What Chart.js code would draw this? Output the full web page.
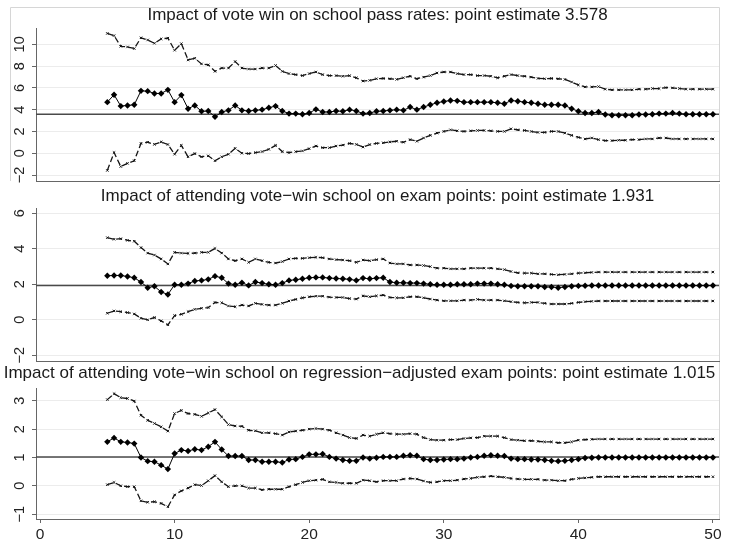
<!DOCTYPE html>
<html>
<head>
<meta charset="utf-8">
<script src="https://cdn.jsdelivr.net/npm/chart.js@4.4.1/dist/chart.umd.min.js"></script>
<style>
  html, body { margin: 0; padding: 0; background: #fff; }
  #wrap { position: relative; width: 731px; height: 545px; overflow: hidden; }
  .panel { position: absolute; left: 0; }
</style>
</head>
<body>
<div id="wrap">
  <canvas id="p1" class="panel" style="top:0px" width="731" height="186"></canvas>
  <canvas id="p2" class="panel" style="top:184px" width="731" height="182"></canvas>
  <canvas id="p3" class="panel" style="top:362px" width="731" height="183"></canvas>
</div>
<script>
// bandwidths (x axis)
const bandwidths = [
  5, 5.5, 6, 6.5, 7, 7.5, 8, 8.5, 9, 9.5,
  10, 10.5, 11, 11.5, 12, 12.5, 13, 13.5, 14, 14.5,
  15, 15.5, 16, 16.5, 17, 17.5, 18, 18.5, 19, 19.5,
  20, 20.5, 21, 21.5, 22, 22.5, 23, 23.5, 24, 24.5,
  25, 25.5, 26, 26.5, 27, 27.5, 28, 28.5, 29, 29.5,
  30, 30.5, 31, 31.5, 32, 32.5, 33, 33.5, 34, 34.5,
  35, 35.5, 36, 36.5, 37, 37.5, 38, 38.5, 39, 39.5,
  40, 40.5, 41, 41.5, 42, 42.5, 43, 43.5, 44, 44.5,
  45, 45.5, 46, 46.5, 47, 47.5, 48, 48.5, 49, 49.5, 50
];
const xTicks = [0, 10, 20, 30, 40, 50];

// Panel 1: school pass rates
const passTitle = 'Impact of vote win on school pass rates: point estimate 3.578';
const passPoint = 3.578;
const passTicks = [-2, 0, 2, 4, 6, 8, 10];
const passEst = [
  4.69, 5.37, 4.33, 4.39, 4.45, 5.73, 5.70, 5.49, 5.49, 5.82,
  4.69, 5.34, 4.09, 4.39, 3.85, 3.88, 3.34, 3.79, 3.94, 4.39,
  3.94, 3.88, 3.94, 4.00, 4.18, 4.33, 3.88, 3.64, 3.64, 3.58,
  3.70, 4.03, 3.79, 3.79, 3.88, 3.85, 4.00, 3.88, 3.64, 3.70,
  3.85, 3.88, 3.94, 4.00, 3.94, 4.24, 4.00, 4.24, 4.45, 4.63,
  4.75, 4.84, 4.81, 4.69, 4.69, 4.69, 4.69, 4.69, 4.63, 4.54,
  4.84, 4.78, 4.69, 4.63, 4.54, 4.45, 4.45, 4.45, 4.39, 4.09,
  3.85, 3.70, 3.70, 3.79, 3.55, 3.49, 3.49, 3.49, 3.49, 3.55,
  3.55, 3.58, 3.64, 3.64, 3.70, 3.64, 3.58, 3.58, 3.58, 3.58, 3.58
];
const passUpper = [
  11.0, 10.8, 9.82, 9.76, 9.61, 10.6, 10.4, 10.1, 10.5, 10.57,
  9.46, 10.06, 8.57, 8.72, 8.20, 8.12, 7.52, 7.82, 7.82, 8.42,
  7.82, 7.73, 7.73, 7.82, 7.82, 8.06, 7.52, 7.31, 7.22, 7.13,
  7.31, 7.46, 7.22, 7.13, 7.13, 7.07, 7.13, 6.93, 6.63, 6.69,
  6.84, 6.87, 6.84, 6.78, 6.93, 7.07, 6.84, 6.99, 7.13, 7.37,
  7.46, 7.46, 7.31, 7.22, 7.22, 7.13, 7.13, 7.07, 6.93, 7.07,
  7.22, 7.13, 7.07, 6.99, 6.87, 6.84, 6.87, 6.84, 6.78, 6.54,
  6.27, 6.09, 6.09, 6.12, 5.88, 5.82, 5.82, 5.82, 5.82, 5.88,
  5.88, 5.94, 5.94, 6.03, 6.00, 5.94, 5.88, 5.88, 5.88, 5.88, 5.88
];
const passLower = [
  -1.58, 0.06, -1.22, -0.93, -0.69, 0.90, 1.01, 0.81, 1.04, 0.80,
  -0.09, 0.72, -0.33, -0.03, -0.33, -0.24, -0.69, -0.33, -0.09, 0.45,
  0.00, -0.03, 0.06, 0.15, 0.36, 0.72, 0.15, 0.06, 0.15, 0.21,
  0.42, 0.66, 0.51, 0.51, 0.66, 0.75, 0.90, 0.81, 0.57, 0.80,
  0.90, 0.96, 1.04, 1.10, 1.01, 1.25, 1.10, 1.40, 1.64, 1.85,
  2.00, 2.15, 2.06, 2.00, 2.06, 2.09, 2.09, 2.06, 2.00, 2.00,
  2.24, 2.15, 2.09, 2.00, 1.91, 1.91, 2.00, 2.00, 1.85, 1.64,
  1.46, 1.31, 1.40, 1.25, 1.16, 1.16, 1.19, 1.19, 1.25, 1.25,
  1.31, 1.31, 1.40, 1.40, 1.31, 1.31, 1.31, 1.31, 1.31, 1.31, 1.31
];

// Panel 2: exam points
const examTitle = 'Impact of attending vote\u2212win school on exam points: point estimate 1.931';
const examPoint = 1.931;
const examTicks = [-2, 0, 2, 4, 6];
const examEst = [
  2.48, 2.50, 2.50, 2.44, 2.37, 2.13, 1.81, 1.89, 1.57, 1.43,
  1.98, 1.98, 2.04, 2.19, 2.22, 2.28, 2.46, 2.37, 2.04, 1.98,
  2.09, 1.94, 2.13, 2.07, 2.00, 1.98, 2.07, 2.22, 2.26, 2.31,
  2.37, 2.39, 2.39, 2.35, 2.33, 2.31, 2.28, 2.22, 2.35, 2.31,
  2.35, 2.37, 2.13, 2.09, 2.09, 2.07, 2.07, 2.04, 2.00, 1.98,
  1.98, 1.98, 2.00, 2.00, 2.00, 2.04, 2.04, 2.04, 2.00, 1.98,
  1.91, 1.89, 1.89, 1.89, 1.89, 1.85, 1.85, 1.81, 1.85, 1.89,
  1.91, 1.92, 1.93, 1.93, 1.93, 1.93, 1.93, 1.93, 1.93, 1.93,
  1.93, 1.93, 1.93, 1.93, 1.93, 1.93, 1.93, 1.93, 1.93, 1.93, 1.93
];
const examUpper = [
  4.63, 4.54, 4.57, 4.48, 4.43, 4.07, 3.76, 3.65, 3.43, 3.15,
  3.80, 3.76, 3.74, 3.76, 3.80, 3.80, 4.02, 3.76, 3.43, 3.33,
  3.43, 3.24, 3.43, 3.33, 3.24, 3.20, 3.28, 3.43, 3.46, 3.46,
  3.50, 3.52, 3.50, 3.43, 3.39, 3.37, 3.33, 3.24, 3.37, 3.33,
  3.39, 3.43, 3.20, 3.15, 3.15, 3.09, 3.09, 3.06, 3.00, 2.91,
  2.91, 2.87, 2.87, 2.87, 2.91, 2.91, 2.91, 2.91, 2.87, 2.83,
  2.72, 2.65, 2.63, 2.63, 2.59, 2.59, 2.56, 2.54, 2.56, 2.59,
  2.63, 2.65, 2.67, 2.69, 2.69, 2.69, 2.69, 2.69, 2.69, 2.69,
  2.69, 2.69, 2.69, 2.69, 2.69, 2.69, 2.69, 2.69, 2.69, 2.69, 2.69
];
const examLower = [
  0.37, 0.50, 0.46, 0.41, 0.33, 0.09, 0.00, 0.13, -0.06, -0.28,
  0.24, 0.31, 0.46, 0.59, 0.65, 0.69, 0.98, 0.96, 0.78, 0.74,
  0.83, 0.78, 0.93, 0.87, 0.83, 0.83, 0.93, 1.06, 1.15, 1.24,
  1.30, 1.33, 1.33, 1.28, 1.26, 1.26, 1.20, 1.17, 1.35, 1.30,
  1.35, 1.39, 1.26, 1.24, 1.24, 1.30, 1.30, 1.24, 1.17, 1.11,
  1.07, 1.07, 1.07, 1.11, 1.11, 1.15, 1.11, 1.11, 1.11, 1.07,
  1.02, 0.98, 0.96, 0.98, 0.98, 0.93, 0.89, 0.89, 0.89, 0.93,
  0.98, 1.02, 1.04, 1.06, 1.06, 1.06, 1.06, 1.06, 1.06, 1.06,
  1.06, 1.06, 1.06, 1.06, 1.06, 1.06, 1.06, 1.06, 1.06, 1.06, 1.06
];

// Panel 3: regression-adjusted exam points
const adjTitle = 'Impact of attending vote\u2212win school on regression\u2212adjusted exam points: point estimate 1.015';
const adjPoint = 1.015;
const adjTicks = [-1, 0, 1, 2, 3];
const adjEst = [
  1.55, 1.69, 1.55, 1.53, 1.49, 1.00, 0.87, 0.85, 0.73, 0.59,
  1.14, 1.26, 1.23, 1.29, 1.26, 1.38, 1.55, 1.28, 1.05, 1.05,
  1.05, 0.91, 0.91, 0.85, 0.85, 0.85, 0.82, 0.93, 0.94, 1.02,
  1.11, 1.11, 1.12, 1.02, 0.96, 0.91, 0.88, 0.88, 1.00, 0.96,
  0.99, 1.02, 1.02, 1.02, 1.06, 1.08, 1.06, 0.94, 0.91, 0.91,
  0.93, 0.94, 0.94, 0.96, 1.00, 1.02, 1.06, 1.08, 1.06, 1.05,
  0.96, 0.94, 0.94, 0.93, 0.93, 0.91, 0.88, 0.87, 0.88, 0.91,
  0.94, 0.98, 0.99, 1.00, 1.00, 1.00, 1.00, 1.00, 1.00, 1.00,
  1.00, 1.00, 1.00, 1.00, 1.00, 1.00, 1.00, 1.00, 1.00, 1.00, 1.00
];
const adjUpper = [
  3.04, 3.25, 3.11, 3.08, 2.99, 2.49, 2.31, 2.20, 2.08, 1.93,
  2.55, 2.66, 2.55, 2.52, 2.45, 2.57, 2.69, 2.43, 2.16, 2.11,
  2.10, 1.96, 1.94, 1.87, 1.87, 1.84, 1.79, 1.90, 1.93, 1.96,
  2.00, 2.02, 2.00, 1.96, 1.87, 1.79, 1.70, 1.67, 1.79, 1.75,
  1.82, 1.87, 1.84, 1.82, 1.82, 1.84, 1.82, 1.70, 1.63, 1.61,
  1.61, 1.63, 1.63, 1.67, 1.69, 1.70, 1.75, 1.75, 1.75, 1.70,
  1.63, 1.61, 1.59, 1.59, 1.57, 1.55, 1.55, 1.52, 1.52, 1.55,
  1.61, 1.63, 1.64, 1.65, 1.65, 1.65, 1.65, 1.65, 1.65, 1.65,
  1.65, 1.65, 1.65, 1.65, 1.65, 1.65, 1.65, 1.65, 1.65, 1.65, 1.65
];
const adjLower = [
  0.04, 0.12, 0.00, -0.03, -0.03, -0.53, -0.58, -0.56, -0.62, -0.74,
  -0.32, -0.18, -0.08, 0.04, 0.01, 0.18, 0.36, 0.14, -0.03, 0.00,
  0.00, -0.08, -0.08, -0.14, -0.12, -0.12, -0.12, -0.03, 0.04, 0.12,
  0.18, 0.20, 0.23, 0.14, 0.12, 0.09, 0.09, 0.09, 0.20, 0.18,
  0.14, 0.18, 0.18, 0.18, 0.24, 0.26, 0.24, 0.17, 0.12, 0.14,
  0.18, 0.18, 0.20, 0.24, 0.26, 0.30, 0.32, 0.34, 0.32, 0.30,
  0.26, 0.24, 0.23, 0.23, 0.23, 0.20, 0.20, 0.18, 0.18, 0.23,
  0.26, 0.28, 0.30, 0.32, 0.32, 0.32, 0.32, 0.32, 0.32, 0.32,
  0.32, 0.32, 0.32, 0.32, 0.32, 0.32, 0.32, 0.32, 0.32, 0.32, 0.32
];

const FONT = "'Liberation Sans', Arial, sans-serif";
const X_MIN = -0.3, X_MAX = 50.45;

// light outline around the graph region
const framePlugin = {
    id: 'frame',
    beforeDraw: function(chart, args, opts) {
        const ctx = chart.ctx;
        const area = chart.chartArea;
        const r = Math.round(area.right) + 0.5;
        ctx.save();
        ctx.strokeStyle = '#d6d6d6';
        ctx.lineWidth = 1;
        ctx.beginPath();
        ctx.moveTo(r, opts.top);
        ctx.lineTo(r, area.bottom);
        if (opts.box) {
            ctx.moveTo(10.5, opts.top);
            ctx.lineTo(r, opts.top);
            ctx.moveTo(10.5, opts.top);
            ctx.lineTo(10.5, area.bottom);
        }
        ctx.stroke();
        ctx.restore();
    }
};

function toPoints(values) {
    return bandwidths.map(function(x, i) { return { x: x, y: values[i] }; });
}

function makePanel(id, cfg) {
    new Chart(document.getElementById(id), {
        type: 'line',
        data: {
            datasets: [
                {
                    data: toPoints(cfg.est),
                    borderColor: '#000',
                    backgroundColor: '#000',
                    borderWidth: 1,
                    pointStyle: 'rectRot',
                    pointRadius: 3.2,
                    pointBorderWidth: 0,
                    order: 0
                },
                {
                    data: toPoints(cfg.upper),
                    borderColor: '#151515',
                    borderWidth: 1.3,
                    borderDash: [6, 3],
                    pointStyle: 'crossRot',
                    pointRadius: 1.7,
                    pointBorderWidth: 1,
                    pointBorderColor: '#151515',
                    order: 1
                },
                {
                    data: toPoints(cfg.lower),
                    borderColor: '#151515',
                    borderWidth: 1.3,
                    borderDash: [6, 3],
                    pointStyle: 'crossRot',
                    pointRadius: 1.7,
                    pointBorderWidth: 1,
                    pointBorderColor: '#151515',
                    order: 1
                },
                {
                    data: [{ x: X_MIN, y: cfg.point }, { x: X_MAX, y: cfg.point }],
                    borderColor: '#4a4a4a',
                    borderWidth: 1.5,
                    pointRadius: 0,
                    order: 2
                }
            ]
        },
        options: {
            responsive: false,
            animation: false,
            events: [],
            layout: { padding: { left: 0, right: 12, top: 0, bottom: cfg.padBottom } },
            plugins: {
                legend: { display: false },
                tooltip: { enabled: false },
                title: {
                    display: true,
                    text: cfg.title,
                    fullSize: cfg.fullTitle,
                    color: '#1a1a1a',
                    font: { family: FONT, size: 17, weight: 'normal', lineHeight: 1.2 },
                    padding: { top: cfg.titleTop, bottom: cfg.titleBottom }
                },
                frame: { top: cfg.frameTop, box: cfg.box }
            },
            scales: {
                x: {
                    type: 'linear',
                    min: X_MIN,
                    max: X_MAX,
                    afterBuildTicks: function(scale) {
                        scale.ticks = xTicks.map(function(v) { return { value: v }; });
                    },
                    afterFit: function(scale) {
                        scale.height = cfg.xHeight;
                        scale.paddingLeft = 0;
                        scale.paddingRight = 0;
                    },
                    grid: { display: cfg.showX, drawOnChartArea: false, drawTicks: true, tickLength: 4, tickColor: '#666' },
                    border: { display: true, color: '#666', width: 1 },
                    ticks: {
                        display: cfg.showX,
                        color: '#222',
                        font: { family: FONT, size: 15.5 },
                        padding: 2,
                        maxRotation: 0
                    }
                },
                y: {
                    type: 'linear',
                    min: cfg.yMin,
                    max: cfg.yMax,
                    afterBuildTicks: function(scale) {
                        scale.ticks = cfg.yTicks.map(function(v) { return { value: v }; });
                    },
                    afterFit: function(scale) {
                        scale.width = 36;
                        scale.paddingTop = 0;
                        scale.paddingBottom = 0;
                    },
                    grid: { color: '#ececec', lineWidth: 1, tickLength: 4, tickColor: '#666' },
                    border: { display: true, color: '#666', width: 1 },
                    ticks: {
                        color: '#222',
                        font: { family: FONT, size: 14.5 },
                        minRotation: 90,
                        maxRotation: 90,
                        crossAlign: 'center',
                        padding: 4,
                        callback: function(v) { return String(v).replace('-', '\u2212'); }
                    }
                }
            }
        },
        plugins: [framePlugin]
    });
}

makePanel('p1', {
    title: passTitle, point: passPoint, est: passEst, upper: passUpper, lower: passLower,
    yMin: -2.55, yMax: 11.5, yTicks: passTicks,
    titleTop: 4.8, titleBottom: 2.8, fullTitle: false,
    showX: false, xHeight: 0, padBottom: 2, frameTop: 7.5, box: true
});
makePanel('p2', {
    title: examTitle, point: examPoint, est: examEst, upper: examUpper, lower: examLower,
    yMin: -2.32, yMax: 6.3, yTicks: examTicks,
    titleTop: 1.8, titleBottom: 1.8, fullTitle: false,
    showX: false, xHeight: 0, padBottom: 3, frameTop: 0, box: false
});
makePanel('p3', {
    title: adjTitle, point: adjPoint, est: adjEst, upper: adjUpper, lower: adjLower,
    yMin: -1.17, yMax: 3.45, yTicks: adjTicks,
    titleTop: 0.8, titleBottom: 4.8, fullTitle: true,
    showX: true, xHeight: 22, padBottom: 4, frameTop: 0, box: false
});
</script>
</body>
</html>
